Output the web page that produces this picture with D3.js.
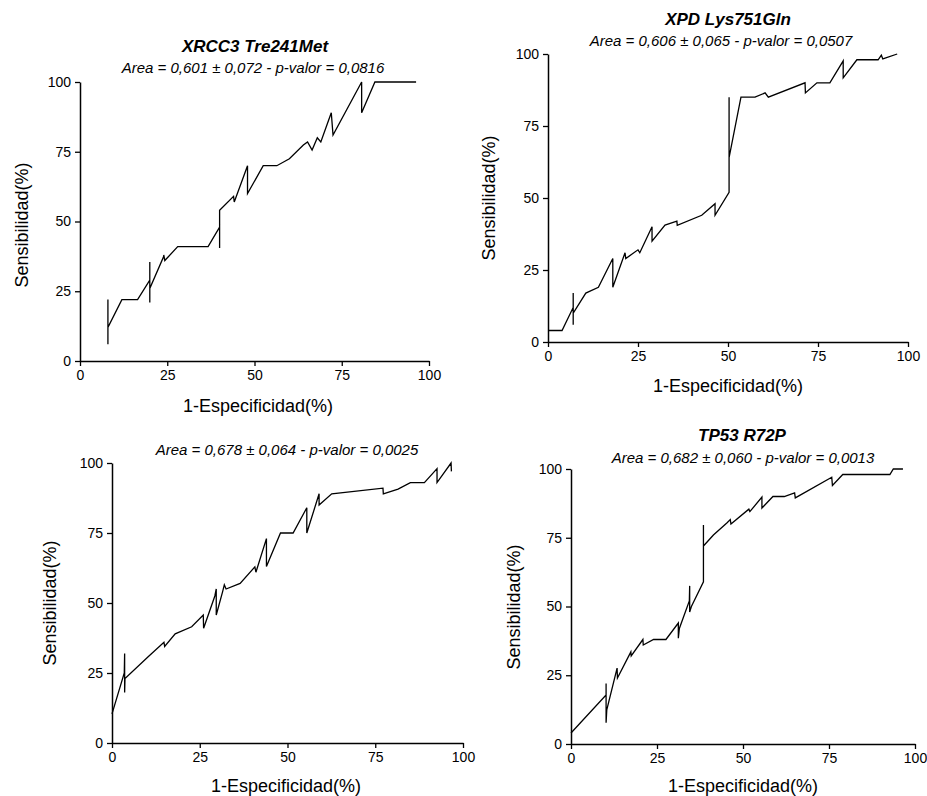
<!DOCTYPE html>
<html>
<head>
<meta charset="utf-8">
<script src="https://cdn.jsdelivr.net/npm/d3@7"></script>
<style>
  body { margin: 0; background: #fff; }
  svg { display: block; }
  .tick text { font-family: "Liberation Sans", Arial, sans-serif; font-size: 14px; fill: #000; }
</style>
</head>
<body>
<svg id="chart" width="927" height="796"></svg>
<script>
// ---- data ----
const xTicks = [0, 25, 50, 75, 100];
const yTicks = [0, 25, 50, 75, 100];
const xLabel = "1-Especificidad(%)";
const yLabel = "Sensibilidad(%)";

const titles = ["XRCC3 Tre241Met", "XPD Lys751Gln", "", "TP53 R72P"];
const subtitles = [
  "Area = 0,601 \u00b1 0,072 - p-valor = 0,0816",
  "Area = 0,606 \u00b1 0,065 - p-valor = 0,0507",
  "Area = 0,678 \u00b1 0,064 - p-valor = 0,0025",
  "Area = 0,682 \u00b1 0,060 - p-valor = 0,0013"
];

const rocXRCC3 = [
  [8,22],[8,6],[8,12],[12,22],[16.5,22],[20,29],[20,35.5],[20,21],[20,26],[24,37.5],[24,38],[24.3,36],
  [28,41],[36.7,41],[40,48],[40,40.5],[40,54],[44,59],[44.2,57],[48,70],[48,60],[52.5,70],[56.4,70],
  [60,72.5],[64,77.4],[65.2,78.5],[66.5,75.6],[68,80],[69,78.5],[72,89],[72.5,81],
  [80.7,100],[80.7,89],[84.5,100],[96.3,100]
];
const rocXPD = [
  [0,4],[3.9,4],[7,12],[7,17],[7,6],[7,10],[10.5,17],[14,19],[18,29],[18,19],[21.4,31],[21.6,29],
  [25,32],[25.5,31],[28.9,40],[28.9,35],[32.5,40.6],[35.8,42],[35.9,40.5],[42.7,44],[46.4,48],[46.4,44],
  [50.3,52],[50.3,85],[50.3,64],[53.6,85],[57.5,85],[60.3,86.5],[61.2,85],[71.4,90],[71.5,86.5],[74.7,90],
  [78.3,90],[82,97.6],[82,91.7],[85.8,98],[91.7,98],[92.6,99.6],[93,98.3],[97,100]
];
const rocPanel3 = [
  [0,10.4],[3.5,25],[3.6,32],[3.6,18],[3.7,23],[10.3,30.8],[14.8,36],[15,34.5],[18,39],[22.7,41.5],
  [26,45.7],[26.1,41],[29.3,52.5],[29.7,55],[29.7,45.7],[31.5,54],[32,56.5],[32.5,55],[36.5,57],
  [40.7,62.9],[41,61],[44,73],[44,63],[48,75],[51.6,75],[55.5,84],[55.5,75],[59,89],[59,85],
  [62.6,89],[77.2,91],[77.3,89],[81.5,90.7],[85,93],[89,93],[92.6,98],[92.6,93],[96.6,100],[96.7,97]
];
const rocTP53 = [
  [0,4],[10.2,17.8],[10.2,22],[10.2,7.7],[10.4,12.4],[13.4,27.6],[13.5,24],[17.4,33.5],[17.5,32],
  [20.9,38],[21,36],[24,38],[27.6,38],[31.2,44],[31.2,38.5],[31.5,42],[34.4,52],[34.5,57.5],[34.5,48],
  [35,50],[38.5,59],[38.5,79.6],[38.5,72],[41.4,76],[45.3,80.4],[46.3,81.6],[46.5,80],[51.7,85.4],
  [52,84.5],[55.5,89.8],[55.5,85.8],[58.7,90],[62,90],[65,91.3],[65.2,89.5],[75.8,97],[76,94],
  [79,98],[92.7,98],[93.7,100],[96.5,100]
];
const series = [rocXRCC3, rocXPD, rocPanel3, rocTP53];

// ---- layout (pixel geometry) ----
const panels = [
  { x0: 80,  x1: 429, y0: 361, y1: 82,  titleX: 255, titleY: 52,  subX: 253, subY: 73,
    xLabX: 258, xLabY: 412, yLabX: 28, yLabY: 225 },
  { x0: 548, x1: 908, y0: 342, y1: 54,  titleX: 728, titleY: 25,  subX: 721, subY: 46,
    xLabX: 728, xLabY: 392, yLabX: 495, yLabY: 198 },
  { x0: 112, x1: 463, y0: 743, y1: 463, titleX: 287, titleY: null, subX: 287, subY: 455,
    xLabX: 286, xLabY: 792, yLabX: 56, yLabY: 603 },
  { x0: 571, x1: 915, y0: 744, y1: 469, titleX: 742, titleY: 441, subX: 743, subY: 463,
    xLabX: 743, xLabY: 792, yLabX: 520, yLabY: 607 }
];

const svg = d3.select("#chart");
const font = '"Liberation Sans", Arial, sans-serif';

panels.forEach((p, i) => {
  const x = d3.scaleLinear().domain([0, 100]).range([p.x0, p.x1]);
  const y = d3.scaleLinear().domain([0, 100]).range([p.y0, p.y1]);
  const g = svg.append("g");

  const xa = g.append("g").attr("transform", `translate(0,${p.y0})`)
    .call(d3.axisBottom(x).tickValues(xTicks).tickSize(5).tickSizeOuter(0).tickPadding(4));
  const ya = g.append("g").attr("transform", `translate(${p.x0},0)`)
    .call(d3.axisLeft(y).tickValues(yTicks).tickSize(5).tickSizeOuter(0).tickPadding(4));
  [xa, ya].forEach(a => {
    a.selectAll("path.domain").attr("stroke", "#000").attr("stroke-width", 1.5);
    a.selectAll(".tick line").attr("stroke", "#000").attr("stroke-width", 1.3);
  });

  const line = d3.line().x(d => x(d[0])).y(d => y(d[1]));
  g.append("path").datum(series[i]).attr("d", line)
    .attr("fill", "none").attr("stroke", "#000").attr("stroke-width", 1.3)
    .attr("stroke-linejoin", "miter");

  if (titles[i]) {
    g.append("text").attr("x", p.titleX).attr("y", p.titleY).attr("text-anchor", "middle")
      .attr("font-family", font).attr("font-size", 17).attr("font-weight", "bold")
      .attr("font-style", "italic").text(titles[i]);
  }
  g.append("text").attr("x", p.subX).attr("y", p.subY).attr("text-anchor", "middle")
    .attr("font-family", font).attr("font-size", 15).attr("font-style", "italic")
    .text(subtitles[i]);

  g.append("text").attr("x", p.xLabX).attr("y", p.xLabY).attr("text-anchor", "middle")
    .attr("font-family", font).attr("font-size", 18).text(xLabel);

  g.append("text").attr("transform", `translate(${p.yLabX},${p.yLabY}) rotate(-90)`)
    .attr("text-anchor", "middle").attr("font-family", font).attr("font-size", 18)
    .text(yLabel);
});
</script>
</body>
</html>
